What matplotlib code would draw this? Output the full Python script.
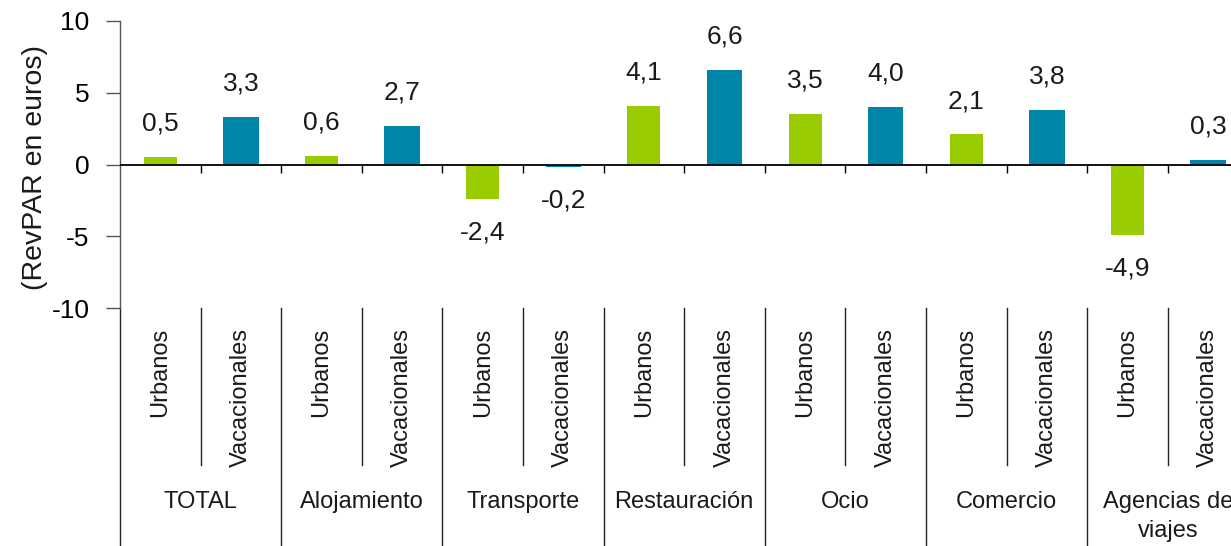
import matplotlib
matplotlib.use("Agg")
import matplotlib.pyplot as plt
import numpy as np

plt.rcParams['font.family'] = ['Liberation Sans', 'DejaVu Sans']
plt.rcParams['axes.unicode_minus'] = False

categories = ["TOTAL", "Alojamiento", "Transporte", "Restauración", "Ocio", "Comercio", "Agencias de\nviajes"]
subgroups = ["Urbanos", "Vacacionales"]
urbanos = [0.5, 0.6, -2.4, 4.1, 3.5, 2.1, -4.9]
vacacionales = [3.3, 2.7, -0.2, 6.6, 4.0, 3.8, 0.3]
yticks = [-10, -5, 0, 5, 10]
ylabel = "(RevPAR en euros)"

GREEN = "#99CC00"
BLUE = "#0086A9"

W, H = 1231, 546
fig = plt.figure(figsize=(W / 100, H / 100), dpi=100)
left, right_px, top_px, bot_px = 120, 120 + 14 * 80.6, 21, 308
ax = fig.add_axes([left / W, 1 - bot_px / H, (right_px - left) / W, (bot_px - top_px) / H])

n = len(categories)
slots = np.arange(2 * n)
xu = slots[0::2]
xv = slots[1::2]
ax.bar(xu, urbanos, width=0.41, color=GREEN, zorder=2)
ax.bar(xv, vacacionales, width=0.44, color=BLUE, zorder=2)

ax.set_xlim(-0.5, 2 * n - 0.5)
ax.set_ylim(-10, 10)
ax.set_yticks(yticks)
ax.set_yticklabels([str(t) for t in yticks])
ax.tick_params(axis='y', length=10, width=1, color='#555555', labelsize=19, pad=12, direction='out')

for s in ['top', 'right', 'bottom']:
    ax.spines[s].set_visible(False)
ax.spines['left'].set_color('#555555')
ax.spines['left'].set_linewidth(1)

# zero line and ticks (pointing down)
ax.axhline(0, color='black', lw=1.3, zorder=3)
ax.set_xticks([])
bounds = np.arange(0.5, 2 * n - 0.5, 1.0)
ax.plot(bounds, np.zeros_like(bounds), linestyle='none', marker=3, markersize=5.5,
        markeredgewidth=1, color='black', zorder=3, clip_on=False)

# value labels
def fmt(v):
    return ("%.1f" % v).replace('.', ',')

for xs, vals in ((xu, urbanos), (xv, vacacionales)):
    for x, v in zip(xs, vals):
        off = 24 if v >= 0 else -24
        ax.annotate(fmt(v), (x, v), xytext=(0, off), textcoords='offset points',
                    ha='center', va='center', fontsize=19, color='#1a1a1a', clip_on=False)

# multi-level category axis
trans = ax.get_xaxis_transform()
for k in range(2 * n + 1):
    b = k - 0.5
    if k % 2 == 0:
        ax.plot([b, b], [0, -1.0], color='#222222', lw=1, transform=trans, clip_on=False)
    else:
        ax.plot([b, b], [0, -0.547], color='#222222', lw=1, transform=trans, clip_on=False)

for i in range(n):
    for j, sg in enumerate(subgroups):
        ax.text(2 * i + j, -0.068, sg, rotation=90, ha='center', va='top', fontsize=17,
                color='#1a1a1a', transform=trans, clip_on=False)
    ax.text(2 * i + 0.5, -0.637, categories[i], ha='center', va='top', fontsize=17,
            color='#1a1a1a', transform=trans, clip_on=False, linespacing=1.45)

# y label
fig.text(35 / W, 1 - 167 / H, ylabel, rotation=90, ha='center', va='center', fontsize=20.5, color='#1a1a1a')

fig.savefig("out.png", dpi=100)
